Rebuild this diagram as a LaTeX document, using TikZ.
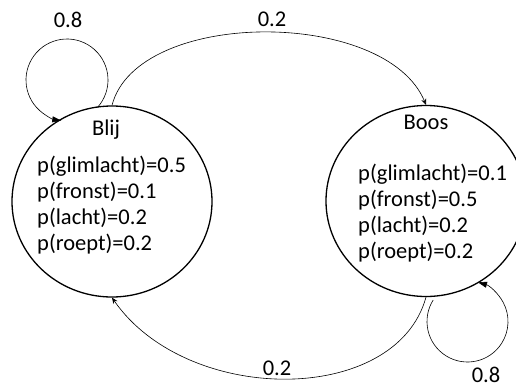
\documentclass[tikz,border=0pt]{standalone}
\usepackage{fontspec}
\setmainfont{Carlito}
\usetikzlibrary{shapes.geometric,arrows.meta,calc}
\begin{document}
\begin{tikzpicture}[x=1pt,y=1pt,
  state/.style={draw,ellipse,line width=1.3pt,minimum width=200pt,minimum height=191pt,inner sep=0pt},
  txt/.style={font=\fontsize{22.5}{26}\selectfont,inner sep=0pt},
  lines/.style={txt,align=left,anchor=north west},
  edge/.style={line width=0.6pt},
  trans/.style={edge,-{Stealth[length=6pt,width=5pt]}},
  selfl/.style={edge,-{Triangle[length=9pt,width=6pt]}}]
\useasboundingbox (0,0) rectangle (516,-388);
\clip (0,0) rectangle (516,-388);
\node[state] (blij) at (112,-201.5) {};
\node[state] (boos) at (426,-201) {};
\node[txt,anchor=base] (blijt) at (106,-135.5) {Blij};
\node[txt,anchor=base] (boost) at (426,-129) {Boos};
\node[lines] (blijp) at (37,-156) {p(glimlacht)=0.5\\p(fronst)=0.1\\p(lacht)=0.2\\p(roept)=0.2};
\node[lines] (boosp) at (358,-164) {p(glimlacht)=0.1\\p(fronst)=0.5\\p(lacht)=0.2\\p(roept)=0.2};
\coordinate (lc1) at (67,-80);
\coordinate (lc2) at (467.5,-321.5);
\draw[selfl] ($(lc1)+(-42:41)$) arc[start angle=-42,end angle=262,radius=41];
\draw[selfl] ($(lc2)+(148:40.5)$) arc[start angle=148,end angle=435,radius=40.5];
\draw[trans] (blij.north) .. controls +(25,97) and +(-40,97) .. (boos.north);
\draw[trans] (boos.south) .. controls +(-30,-109) and +(75,-108) .. (blij.south);
\node[txt] (l1) at (68,-20) {0.8};
\node[txt] (l2) at (272,-19) {0.2};
\node[txt] (l3) at (277,-368) {0.2};
\node[txt] (l4) at (486,-375) {0.8};
\end{tikzpicture}
\end{document}
